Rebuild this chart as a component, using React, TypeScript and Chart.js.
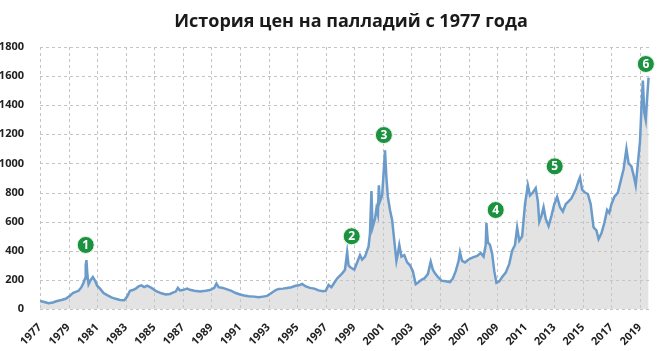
import { useEffect, useRef } from 'react';
import { Chart, registerables } from 'chart.js';

Chart.register(...registerables);

const TITLE = 'История цен на палладий с 1977 года';

const dates = [
  1977.0, 1977.3, 1977.6, 1977.9, 1978.2, 1978.5, 1978.8, 1979.1, 1979.3, 1979.5,
  1979.7, 1979.9, 1980.05, 1980.15, 1980.2, 1980.25, 1980.32, 1980.4, 1980.55, 1980.7,
  1980.85, 1981.0, 1981.2, 1981.45, 1981.7, 1982.0, 1982.3, 1982.6, 1982.9, 1983.1,
  1983.3, 1983.5, 1983.7, 1983.9, 1984.1, 1984.3, 1984.5, 1984.8, 1985.1, 1985.5,
  1985.8, 1986.1, 1986.3, 1986.5, 1986.65, 1986.8, 1987.0, 1987.3, 1987.5, 1987.8,
  1988.2, 1988.6, 1988.9, 1989.2, 1989.35, 1989.5, 1989.8, 1990.1, 1990.4, 1990.7,
  1991.0, 1991.3, 1991.6, 1992.0, 1992.3, 1992.6, 1992.9, 1993.2, 1993.5, 1993.7,
  1994.0, 1994.3, 1994.6, 1994.9, 1995.2, 1995.35, 1995.6, 1995.9, 1996.2, 1996.5,
  1996.8, 1997.0, 1997.2, 1997.4, 1997.6, 1997.8, 1998.0, 1998.2, 1998.35, 1998.5,
  1998.6, 1998.75, 1999.0, 1999.2, 1999.4, 1999.55, 1999.75, 2000.0, 2000.1, 2000.2,
  2000.28, 2000.45, 2000.55, 2000.65, 2000.72, 2000.8, 2000.95, 2001.05, 2001.15, 2001.25,
  2001.35, 2001.5, 2001.65, 2001.8, 2001.95, 2002.05, 2002.15, 2002.3, 2002.5, 2002.7,
  2002.9, 2003.1, 2003.3, 2003.45, 2003.7, 2003.9, 2004.15, 2004.35, 2004.5, 2004.65,
  2004.85, 2005.1, 2005.4, 2005.7, 2005.9, 2006.1, 2006.3, 2006.4, 2006.55, 2006.75,
  2007.0, 2007.3, 2007.6, 2007.85, 2008.05, 2008.2, 2008.25, 2008.35, 2008.5, 2008.65,
  2008.8, 2008.95, 2009.15, 2009.35, 2009.6, 2009.85, 2010.05, 2010.25, 2010.4, 2010.55,
  2010.75, 2010.95, 2011.15, 2011.3, 2011.5, 2011.7, 2011.85, 2011.95, 2012.1, 2012.25,
  2012.4, 2012.6, 2012.8, 2013.0, 2013.2, 2013.4, 2013.6, 2013.8, 2014.0, 2014.2,
  2014.5, 2014.7, 2014.8, 2014.95, 2015.15, 2015.35, 2015.55, 2015.75, 2015.95, 2016.1,
  2016.3, 2016.5, 2016.7, 2016.85, 2017.0, 2017.2, 2017.45, 2017.65, 2017.85, 2018.05,
  2018.2, 2018.4, 2018.55, 2018.7, 2018.85, 2019.0, 2019.1, 2019.2, 2019.3, 2019.4,
  2019.5, 2019.6,
];

const prices = [
  55, 48, 40, 45, 55, 62, 70, 90, 110, 118,
  125, 150, 180, 210, 300, 336, 230, 170, 200, 220,
  195, 160, 140, 110, 95, 80, 70, 62, 60, 85,
  125, 130, 140, 155, 162, 150, 160, 145, 125, 108,
  100, 103, 112, 120, 145, 128, 130, 140, 132, 125,
  120, 125, 130, 145, 175, 150, 145, 135, 125, 110,
  100, 93, 88, 85, 80, 85, 90, 110, 130, 138,
  140, 145, 150, 160, 165, 172, 155, 145, 140, 128,
  122, 125, 165, 150, 180, 210, 230, 250, 270, 390,
  300, 285, 270, 320, 370, 340, 360, 430, 520, 810,
  560, 620, 690, 650, 850, 740, 780, 930, 1090, 900,
  770, 680, 610, 470, 330, 380, 440, 360, 370, 320,
  300, 260, 170, 180, 200, 210, 240, 325, 270, 245,
  220, 195, 190, 185, 210, 260, 330, 390, 330, 320,
  340, 355, 365, 385, 360, 440, 590, 460, 440, 380,
  260, 180, 190, 220, 250, 310, 400, 440, 560, 470,
  500, 720, 850, 780, 800, 830, 740, 600, 640, 700,
  620, 570, 640, 720, 770, 700, 670, 720, 740, 760,
  820, 880, 905, 820, 800, 790, 720, 560, 540, 480,
  520, 590, 680, 660, 720, 770, 800, 880, 960, 1100,
  1000, 980, 920, 850, 1000, 1150, 1380, 1570, 1350, 1300,
  1450, 1590,
];

const yearTicks = [
  1977, 1979, 1981, 1983, 1985, 1987, 1989, 1991, 1993, 1995, 1997,
  1999, 2001, 2003, 2005, 2007, 2009, 2011, 2013, 2015, 2017, 2019,
];

const markerDates = [1980.2, 1998.82, 2001.07, 2008.9, 2013.03, 2019.41];
const markerValues = [440, 500, 1195, 680, 980, 1683];
const markerLabels = ['1', '2', '3', '4', '5', '6'];

const FONT = '"Open Sans", "DejaVu Sans", sans-serif';

export default function App() {
  const ref = useRef<HTMLCanvasElement>(null);

  useEffect(() => {
    document.body.style.margin = '0';
    const canvas = ref.current;
    if (!canvas) return;

    const overlay = {
      id: 'overlay',
      beforeDatasetsDraw(chart: any) {
        // dashed grid drawn from the scales' own tick positions
        const ctx = chart.ctx;
        const area = chart.chartArea;
        const xs = chart.scales.x;
        const ys = chart.scales.y;
        ctx.save();
        ctx.strokeStyle = '#c4c4c4';
        ctx.lineWidth = 1;
        ctx.setLineDash([3, 3]);
        ctx.beginPath();
        xs.ticks.forEach((t: any) => {
          const px = Math.round(xs.getPixelForValue(t.value)) + 0.5;
          ctx.moveTo(px, area.top);
          ctx.lineTo(px, area.bottom);
        });
        ys.ticks.forEach((t: any) => {
          const py = Math.round(ys.getPixelForValue(t.value)) + 0.5;
          ctx.moveTo(area.left, py);
          ctx.lineTo(area.right, py);
        });
        ctx.stroke();
        ctx.restore();
      },
      afterDatasetsDraw(chart: any) {
        const ctx = chart.ctx;
        const meta = chart.getDatasetMeta(0);
        ctx.save();
        ctx.fillStyle = '#ffffff';
        ctx.font = `bold 12px ${FONT}`;
        ctx.textAlign = 'center';
        ctx.textBaseline = 'middle';
        meta.data.forEach((pt: any, i: number) => {
          ctx.fillText(markerLabels[i], pt.x, pt.y + 0.5);
        });
        ctx.restore();
      },
      afterDraw(chart: any) {
        const ctx = chart.ctx;
        ctx.save();
        ctx.fillStyle = '#1a1a1a';
        ctx.font = `bold 18px ${FONT}`;
        ctx.textAlign = 'center';
        ctx.textBaseline = 'middle';
        ctx.fillText(TITLE, 351, 22);
        ctx.restore();
      },
    };

    const chart = new Chart(canvas, {
      type: 'line',
      data: {
        datasets: [
          {
            type: 'scatter',
            data: markerDates.map((d, i) => ({ x: d, y: markerValues[i] })),
            pointRadius: 8.5,
            pointBackgroundColor: '#1c9240',
            pointBorderColor: '#e8f5ea',
            pointBorderWidth: 1,
            clip: false,
            order: 0,
          } as any,
          {
            data: dates.map((d, i) => ({ x: d, y: prices[i] })),
            borderColor: '#6b9bcb',
            borderWidth: 2.5,
            backgroundColor: 'rgba(200,200,200,0.5)',
            fill: 'origin',
            pointRadius: 0,
            tension: 0,
            order: 1,
          },
        ],
      },
      options: {
        responsive: false,
        animation: false,
        devicePixelRatio: 1,
        layout: { padding: { top: 47, right: 21, left: 0, bottom: 0 } },
        plugins: {
          legend: { display: false },
          tooltip: { enabled: false },
          title: { display: false },
        },
        scales: {
          x: {
            type: 'linear',
            min: 1977,
            max: 2019.7,
            afterBuildTicks: (s: any) => {
              s.ticks = yearTicks.map((v) => ({ value: v }));
            },
            afterFit: (s: any) => {
              s.height = 42;
            },
            ticks: {
              autoSkip: false,
              minRotation: 45,
              maxRotation: 45,
              padding: 4,
              color: '#222',
              font: { family: FONT, weight: 'bold', size: 11 },
              callback: (v: any) => String(v),
            },
            grid: { display: false },
            border: { display: false },
          },
          y: {
            min: 0,
            max: 1800,
            afterFit: (s: any) => {
              s.width = 40;
            },
            ticks: {
              stepSize: 200,
              padding: 8,
              color: '#222',
              font: { family: FONT, weight: 'bold', size: 11 },
              callback: (v: any) => String(v),
            },
            grid: { display: false },
            border: { display: false },
          },
        },
      },
      plugins: [overlay],
    });

    return () => chart.destroy();
  }, []);

  return (
    <div style={{ width: 671, height: 351, position: 'relative', background: '#fff' }}>
      <canvas ref={ref} width={671} height={351} />
    </div>
  );
}
